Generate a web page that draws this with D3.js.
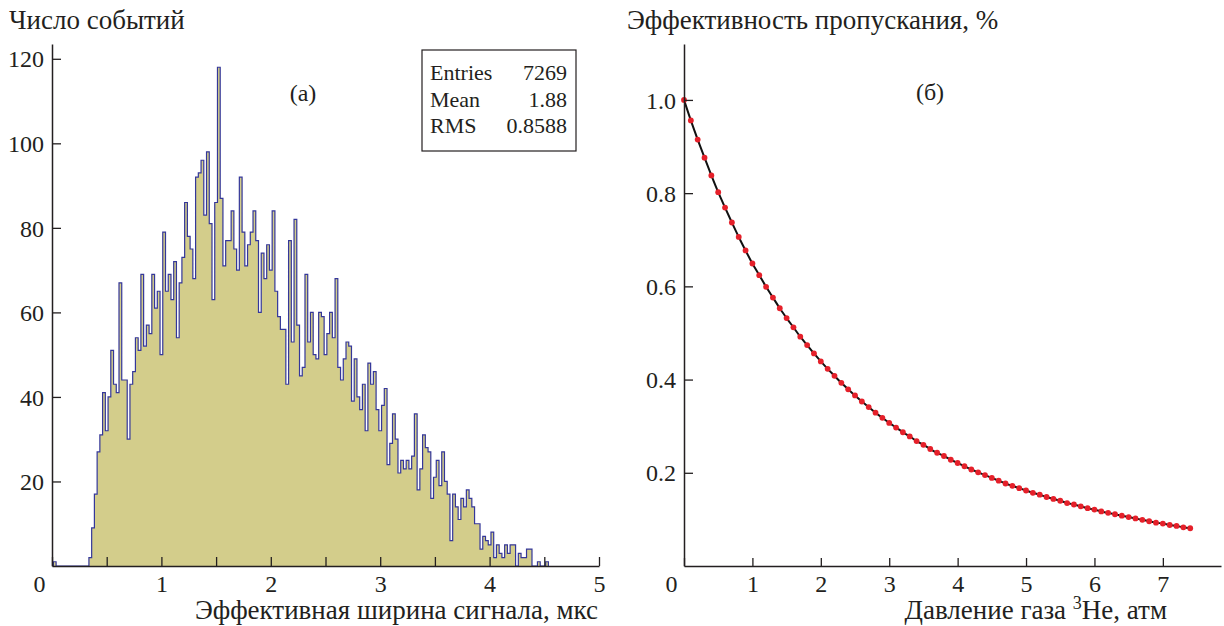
<!DOCTYPE html>
<html>
<head>
<meta charset="utf-8">
<script src="https://cdn.jsdelivr.net/npm/d3@7/dist/d3.min.js"></script>
<style>
	body { margin: 0; background: #fff; }
	svg text { font-family: "Liberation Serif", "Times New Roman", serif; fill: #231f20; }
	.tick_label { font-size: 24px; }
	.title { font-size: 27px; }
	.stat { font-size: 22px; }
</style>
</head>
<body>
<div id="chart"></div>
<script>

// data
// ----------------------------------------

// histogram (a): bins of 0.025 us starting at histStart
var histStart = 0.0125;
var histBinWidth = 0.025;
var histCounts = [
	1,0,0,0,0,0,0,0,0,0,0,0,0,
	2,9,17,27,31,41,32,40,51,43,
	41,67,44,44,30,43,46,54,51,69,
	52,57,55,69,61,65,50,79,65,69,
	63,72,54,67,73,86,78,75,68,92,
	93,96,83,98,81,63,86,118,87,71,
	77,77,84,75,70,92,79,71,76,79,
	84,77,60,74,68,76,70,84,65,59,
	56,56,43,77,53,82,57,45,47,69,
	53,60,50,49,60,59,50,55,60,54,
	68,47,44,49,53,52,39,49,40,37,
	43,32,48,43,46,37,32,38,42,24,
	29,36,30,22,25,23,25,23,26,36,
	18,23,31,28,27,16,21,25,19,27,
	20,17,6,17,14,11,16,14,18,16,
	14,10,10,4,7,6,5,8,2,5,
	3,2,5,3,5,5,0,3,2,2,
	4,4,0,0,1,0,0,1
];
var statNames = ["Entries", "Mean", "RMS"];
var statValues = ["7269", "1.88", "0.8588"];

var histTicks = [0, 0.5, 1, 1.5, 2, 2.5, 3, 3.5, 4, 4.5, 5];
var histYTicks = [20, 40, 60, 80, 100, 120];

// transmission (б)
var pressure = [
	0.0,0.1,0.2,0.3,0.4,0.5,0.6,0.7,0.8,0.9,
	1.0,1.1,1.2,1.3,1.4,1.5,1.6,1.7,1.8,1.9,
	2.0,2.1,2.2,2.3,2.4,2.5,2.6,2.7,2.8,2.9,
	3.0,3.1,3.2,3.3,3.4,3.5,3.6,3.7,3.8,3.9,
	4.0,4.1,4.2,4.3,4.4,4.5,4.6,4.7,4.8,4.9,
	5.0,5.1,5.2,5.3,5.4,5.5,5.6,5.7,5.8,5.9,
	6.0,6.1,6.2,6.3,6.4,6.5,6.6,6.7,6.8,6.9,
	7.0,7.1,7.2,7.3,7.4
];
var transmission = [
	1.000,0.956,0.915,0.876,0.838,0.802,0.769,0.737,0.706,0.677,
	0.649,0.624,0.599,0.576,0.553,0.532,0.512,0.492,0.474,0.456,
	0.439,0.423,0.408,0.393,0.379,0.366,0.353,0.341,0.329,0.318,
	0.307,0.297,0.287,0.278,0.268,0.260,0.251,0.243,0.236,0.228,
	0.221,0.214,0.207,0.201,0.195,0.189,0.183,0.177,0.172,0.167,
	0.162,0.157,0.153,0.148,0.144,0.140,0.135,0.132,0.128,0.124,
	0.121,0.117,0.114,0.111,0.108,0.105,0.102,0.099,0.096,0.093,
	0.091,0.088,0.086,0.083,0.081
];
var pressTicks = [0, 1, 2, 3, 4, 5, 6, 7];
var transTicks = [0.2, 0.4, 0.6, 0.8, 1.0];

// main variables
// ----------------------------------------

var width = 1224, height = 626;
var axisColor = "#231f20";

var svg = d3.select("#chart")
	.append("svg")
	.attr("width", width)
	.attr("height", height);

function style_axis(g, isX) {
	g.attr("font-size", null).attr("font-family", null);
	g.select(".domain").attr("stroke", axisColor).attr("stroke-width", 1.5);
	g.selectAll(".tick line").attr("stroke", axisColor).attr("stroke-width", 1.3);
	g.selectAll(".tick text").attr("class", "tick_label");
	if (isX) {
		g.selectAll(".tick text").attr("y", 26).attr("dy", null);
		// "0" sits left of the corner
		g.selectAll(".tick text").filter(function(d) { return d === 0; }).attr("x", -13);
	} else {
		g.selectAll(".tick text").attr("x", -8).attr("dy", "0.34em");
	}
}

// panel (a) histogram
// ----------------------------------------

function histogram() {
	var x = d3.scaleLinear().domain([0, 5]).range([52, 599]);
	var y = d3.scaleLinear().domain([0, 123.5]).range([566, 44]);

	var pts = histCounts.map(function(c, i) {
		return { x: histStart + i * histBinWidth, c: c };
	});
	pts.push({ x: histStart + histCounts.length * histBinWidth, c: 0 });
	var outline = [{ x: histStart, c: 0 }].concat(pts);

	var area = d3.area()
		.x(function(d) { return x(d.x); })
		.y0(y(0))
		.y1(function(d) { return y(d.c); })
		.curve(d3.curveStepAfter);

	var line = d3.line()
		.x(function(d) { return x(d.x); })
		.y(function(d) { return y(d.c); })
		.curve(d3.curveStepAfter);

	var plot = svg.append("g").attr("id", "hist");

	plot.append("path")
		.datum(pts)
		.attr("d", area)
		.attr("fill", "#d3cd8b");

	plot.append("path")
		.datum(outline)
		.attr("d", line)
		.attr("fill", "none")
		.attr("stroke", "#34379a")
		.attr("stroke-width", 1.2);

	var gx = svg.append("g")
		.attr("transform", "translate(0," + y(0) + ")")
		.call(d3.axisBottom(x)
			.tickValues(histTicks)
			.tickSize(-9)
			.tickSizeOuter(0)
			.tickFormat(function(d) { return Number.isInteger(d) ? d : ""; }));
	style_axis(gx, true);

	var gy = svg.append("g")
		.attr("transform", "translate(" + x(0) + ",0)")
		.call(d3.axisLeft(y)
			.tickValues(histYTicks)
			.tickSize(-9)
			.tickSizeOuter(0));
	style_axis(gy, false);

	// titles
	svg.append("text").attr("class", "title")
		.attr("x", 9).attr("y", 29)
		.text("Число событий");

	svg.append("text").attr("class", "title")
		.attr("x", 598).attr("y", 619)
		.attr("text-anchor", "end")
		.text("Эффективная ширина сигнала, мкс");

	svg.append("text").attr("class", "tick_label")
		.attr("x", 303).attr("y", 101)
		.attr("text-anchor", "middle")
		.text("(а)");

	// stat box
	var box = svg.append("g").attr("id", "stats");
	box.append("rect")
		.attr("x", 422).attr("y", 50)
		.attr("width", 154).attr("height", 101)
		.attr("fill", "#fff")
		.attr("stroke", axisColor)
		.attr("stroke-width", 1.2);

	statNames.forEach(function(n, i) {
		box.append("text").attr("class", "stat")
			.attr("x", 430).attr("y", 80 + i * 26.5)
			.text(n);
		box.append("text").attr("class", "stat")
			.attr("x", 567).attr("y", 80 + i * 26.5)
			.attr("text-anchor", "end")
			.text(statValues[i]);
	});
}

// panel (б) transmission
// ----------------------------------------

function transmission_plot() {
	var x = d3.scaleLinear().domain([0, 7.85]).range([684, 1221]);
	var y = d3.scaleLinear().domain([0, 1.12]).range([566, 44]);

	var data = pressure.map(function(p, i) {
		return { p: p, t: transmission[i] };
	});

	var line = d3.line()
		.x(function(d) { return x(d.p); })
		.y(function(d) { return y(d.t); })
		.curve(d3.curveMonotoneX);

	var plot = svg.append("g").attr("id", "trans");

	plot.append("path")
		.datum(data)
		.attr("d", line)
		.attr("fill", "none")
		.attr("stroke", "#111")
		.attr("stroke-width", 2);

	plot.selectAll("circle")
		.data(data)
		.enter()
		.append("circle")
		.attr("cx", function(d) { return x(d.p); })
		.attr("cy", function(d) { return y(d.t); })
		.attr("r", 2.9)
		.attr("fill", "#e5202a");

	var gx = svg.append("g")
		.attr("transform", "translate(0," + y(0) + ")")
		.call(d3.axisBottom(x)
			.tickValues(pressTicks)
			.tickSize(-8)
			.tickSizeOuter(0));
	style_axis(gx, true);

	var gy = svg.append("g")
		.attr("transform", "translate(" + x(0) + ",0)")
		.call(d3.axisLeft(y)
			.tickValues(transTicks)
			.tickSize(-9)
			.tickSizeOuter(0)
			.tickFormat(d3.format(".1f")));
	style_axis(gy, false);

	svg.append("text").attr("class", "title")
		.attr("x", 627).attr("y", 29)
		.text("Эффективность пропускания, %");

	var xt = svg.append("text").attr("class", "title")
		.attr("x", 1167).attr("y", 619)
		.attr("text-anchor", "end");
	xt.append("tspan").text("Давление газа ");
	xt.append("tspan").attr("dy", -10).attr("font-size", 18).text("3");
	xt.append("tspan").attr("dy", 10).text("He, атм");

	svg.append("text").attr("class", "tick_label")
		.attr("x", 930).attr("y", 100)
		.attr("text-anchor", "middle")
		.text("(б)");
}

histogram();
transmission_plot();

</script>
</body>
</html>
